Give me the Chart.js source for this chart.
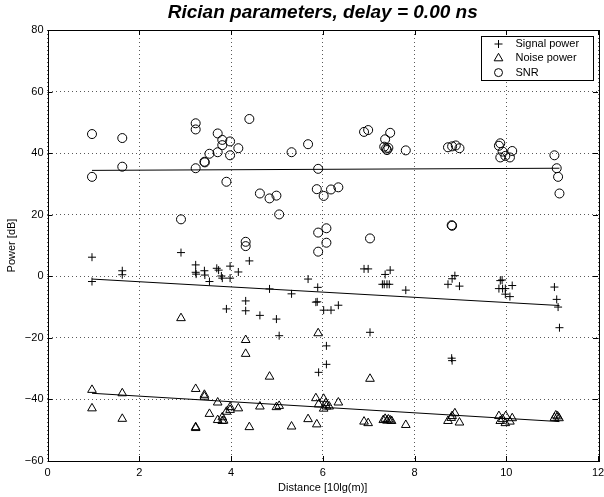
<!DOCTYPE html>
<html><head><meta charset="utf-8">
<script src="https://cdn.jsdelivr.net/npm/chart.js@4/dist/chart.umd.min.js"></script>
<style>html,body{margin:0;padding:0;background:#fff}#wrap{width:604px;height:497px}</style>
</head><body><div id="wrap"><canvas id="c" width="604" height="497"></canvas></div>
<script>
const chartTitle = 'Rician parameters, delay = 0.00 ns';
const xLabel = 'Distance [10lg(m)]';
const yLabel = 'Power [dB]';
const seriesNames = ['Signal power', 'Noise power', 'SNR'];
const xTicks = [0, 2, 4, 6, 8, 10, 12];
const yTicks = [-60, -40, -20, 0, 20, 40, 60, 80];

const signalX = [0.97,0.97,1.63,1.63,2.91,3.23,3.23,3.24,3.42,3.43,3.53,3.69,3.73,3.79,3.81,3.90,3.98,3.98,4.16,4.32,4.32,4.40,4.63,4.84,4.99,5.05,5.32,5.68,5.85,5.88,5.89,5.91,6.02,6.08,6.08,6.18,6.34,6.90,6.99,7.03,7.30,7.34,7.36,7.40,7.45,7.47,7.81,8.73,8.81,8.82,8.82,8.88,8.98,9.84,9.87,9.91,9.92,9.98,9.98,10.08,10.13,11.05,11.10,11.13,11.16];
const signalY = [6.2,-1.7,1.8,0.5,7.7,3.7,1.3,0.7,1.8,0.4,-1.7,2.6,2.0,0.1,-0.6,-10.6,3.3,-0.6,1.4,-8.0,-11.2,5.0,-12.7,-4.1,-13.9,-19.3,-5.7,-0.9,-8.4,-8.3,-3.6,-31.2,-11.0,-22.6,-28.6,-11.0,-9.4,2.4,2.4,-18.2,-2.6,-2.6,0.6,-2.6,-2.6,2.0,-4.5,-2.6,-26.6,-27.4,-0.8,0.2,-3.2,-4.0,-1.4,-1.2,-4.0,-4.0,-5.8,-6.6,-3.0,-3.5,-7.5,-10.0,-16.7];

const noiseX = [0.97,0.97,1.63,1.63,2.91,3.23,3.23,3.23,3.42,3.42,3.53,3.71,3.71,3.81,3.81,3.84,3.90,3.98,3.98,4.16,4.32,4.32,4.40,4.63,4.84,4.99,5.05,5.32,5.68,5.85,5.87,5.90,5.91,6.02,6.02,6.07,6.08,6.14,6.34,6.90,6.99,7.03,7.32,7.36,7.40,7.43,7.47,7.50,7.81,8.73,8.80,8.82,8.88,8.98,9.84,9.87,9.92,9.98,9.99,10.08,10.13,11.05,11.08,11.12,11.15];
const noiseY = [-36.9,-42.9,-38.0,-46.3,-13.6,-36.6,-49.0,-49.3,-38.5,-39.1,-44.7,-41.0,-46.7,-45.8,-47.0,-46.9,-44.0,-42.5,-43.4,-42.9,-20.7,-25.2,-49.0,-42.3,-32.6,-42.5,-42.1,-48.8,-46.4,-39.6,-48.1,-18.5,-41.6,-39.8,-43.0,-41.2,-42.3,-42.3,-41.0,-47.2,-47.7,-33.3,-46.7,-46.3,-46.9,-46.5,-46.8,-47.0,-48.3,-47.0,-46.0,-45.4,-44.5,-47.5,-45.4,-47.0,-46.4,-47.7,-45.4,-47.2,-46.1,-46.0,-45.2,-45.5,-46.1];

const snrX = [0.97,0.97,1.63,1.63,2.91,3.23,3.23,3.23,3.42,3.43,3.53,3.71,3.71,3.81,3.81,3.90,3.98,3.98,4.16,4.32,4.32,4.40,4.63,4.84,4.99,5.05,5.32,5.68,5.87,5.90,5.90,5.90,6.02,6.08,6.08,6.18,6.34,6.90,6.99,7.03,7.34,7.36,7.38,7.40,7.43,7.47,7.81,8.73,8.81,8.82,8.82,8.90,8.98,9.84,9.87,9.87,9.92,9.98,10.08,10.13,11.05,11.10,11.13,11.16];
const snrY = [46.2,32.3,44.9,35.6,18.5,49.7,47.7,35.1,37.2,37.0,39.8,46.4,40.3,44.3,42.6,30.7,43.8,39.3,41.6,11.2,9.8,51.1,26.9,25.3,26.2,20.1,40.3,42.9,28.3,34.9,14.2,8.0,26.1,15.6,10.9,28.2,28.9,46.9,47.5,12.3,42.1,44.5,41.5,41.0,41.7,46.6,40.9,41.9,16.6,16.4,42.2,42.5,41.6,42.4,43.2,38.6,40.5,39.1,38.6,40.7,39.3,35.1,32.3,26.9];

const fitX = [0.97, 11.16];
const signalFitY = [-0.9, -9.5];
const noiseFitY = [-38.0, -47.2];
const snrFitY = [34.4, 35.1];

const FONT = 'Liberation Sans, Arial, Helvetica, sans-serif';
const pts = (xs, ys) => xs.map((x, i) => ({x: x, y: ys[i]}));

function scatterSet(label, xs, ys, style, r) {
  return {type: 'scatter', label: label, data: pts(xs, ys), pointStyle: style, pointRadius: r,
    pointHoverRadius: r, borderColor: '#000', backgroundColor: 'rgba(0,0,0,0)', pointBorderWidth: 1, showLine: false};
}
function fitSet(ys) {
  return {type: 'line', label: '', data: pts(fitX, ys), borderColor: '#000', borderWidth: 1,
    pointRadius: 0, fill: false, tension: 0};
}

const framePlugin = {
  id: 'frame',
  afterDraw(chart) {
    const ctx = chart.ctx, a = chart.chartArea;
    const xs = chart.scales.x, ys = chart.scales.y;
    ctx.save();
    ctx.strokeStyle = '#000'; ctx.lineWidth = 1; ctx.setLineDash([]);
    ctx.strokeRect(Math.round(a.left) + 0.5, Math.round(a.top) + 0.5, Math.round(a.right - a.left), Math.round(a.bottom - a.top));
    const L = 5;
    ctx.beginPath();
    xTicks.forEach(v => {
      const p = Math.round(xs.getPixelForValue(v)) + 0.5;
      ctx.moveTo(p, a.bottom); ctx.lineTo(p, a.bottom - L);
      ctx.moveTo(p, a.top); ctx.lineTo(p, a.top + L);
    });
    yTicks.forEach(v => {
      const p = Math.round(ys.getPixelForValue(v)) + 0.5;
      ctx.moveTo(a.left, p); ctx.lineTo(a.left + L, p);
      ctx.moveTo(a.right, p); ctx.lineTo(a.right - L, p);
    });
    ctx.stroke();
    // legend box
    const bx = Math.round(a.right - 117) + 0.5, by = Math.round(a.top + 6) + 0.5, bw = 112, bh = 44;
    ctx.fillStyle = '#fff';
    ctx.fillRect(bx, by, bw, bh);
    ctx.strokeRect(bx, by, bw, bh);
    const styles = [['cross', 4], ['triangle', 5], ['circle', 4]];
    ctx.font = '11px ' + FONT;
    ctx.textBaseline = 'middle';
    ctx.textAlign = 'left';
    seriesNames.forEach((name, i) => {
      const yy = by + 7.5 + i * 14.3;
      ctx.strokeStyle = '#000'; ctx.lineWidth = 1; ctx.fillStyle = 'rgba(0,0,0,0)';
      Chart.helpers.drawPoint(ctx, {pointStyle: styles[i][0], radius: styles[i][1], borderWidth: 1, rotation: 0}, bx + 17, yy);
      ctx.fillStyle = '#000';
      ctx.fillText(name, bx + 34, yy);
    });
    ctx.restore();
  }
};

const minus = v => (v < 0 ? '\u2212' + Math.abs(v) : String(v));

new Chart(document.getElementById('c'), {
  data: {
    datasets: [
      scatterSet(seriesNames[0], signalX, signalY, 'cross', 4),
      scatterSet(seriesNames[1], noiseX, noiseY, 'triangle', 5),
      scatterSet(seriesNames[2], snrX, snrY, 'circle', 4.5),
      fitSet(signalFitY), fitSet(noiseFitY), fitSet(snrFitY)
    ]
  },
  options: {
    responsive: false, animation: false, devicePixelRatio: 1,
    layout: {padding: {left: 0, right: 5, top: 0, bottom: 0}},
    plugins: {
      legend: {display: false}, tooltip: {enabled: false},
      title: {display: true, fullSize: false, text: chartTitle, color: '#000',
        font: {family: FONT, size: 19, weight: 'bold', style: 'italic'}, padding: {top: 1, bottom: 6.2}}
    },
    scales: {
      x: {type: 'linear', min: 0, max: 12,
        afterFit: s => { s.height = 36; s.paddingLeft = 0; s.paddingRight = 0; },
        afterBuildTicks: s => { s.ticks = xTicks.map(v => ({value: v})); },
        ticks: {color: '#000', font: {family: FONT, size: 11}, padding: 5, maxRotation: 0, callback: minus},
        grid: {color: 'rgba(0,0,0,0.65)', lineWidth: 1, drawTicks: false},
        border: {display: false, dash: [1, 3]},
        title: {display: true, text: xLabel, color: '#000', font: {family: FONT, size: 11}, padding: {top: 0, bottom: 2}}
      },
      y: {type: 'linear', min: -60, max: 80,
        afterFit: s => { s.width = 47.5; s.paddingTop = 0; s.paddingBottom = 0; },
        afterBuildTicks: s => { s.ticks = yTicks.map(v => ({value: v})); },
        ticks: {color: '#000', font: {family: FONT, size: 11}, padding: 4, callback: minus},
        grid: {color: 'rgba(0,0,0,0.65)', lineWidth: 1, drawTicks: false},
        border: {display: false, dash: [1, 3]},
        title: {display: true, text: yLabel, color: '#000', font: {family: FONT, size: 11}, padding: {top: 5, bottom: 0}}
      }
    }
  },
  plugins: [framePlugin]
});
</script></body></html>
